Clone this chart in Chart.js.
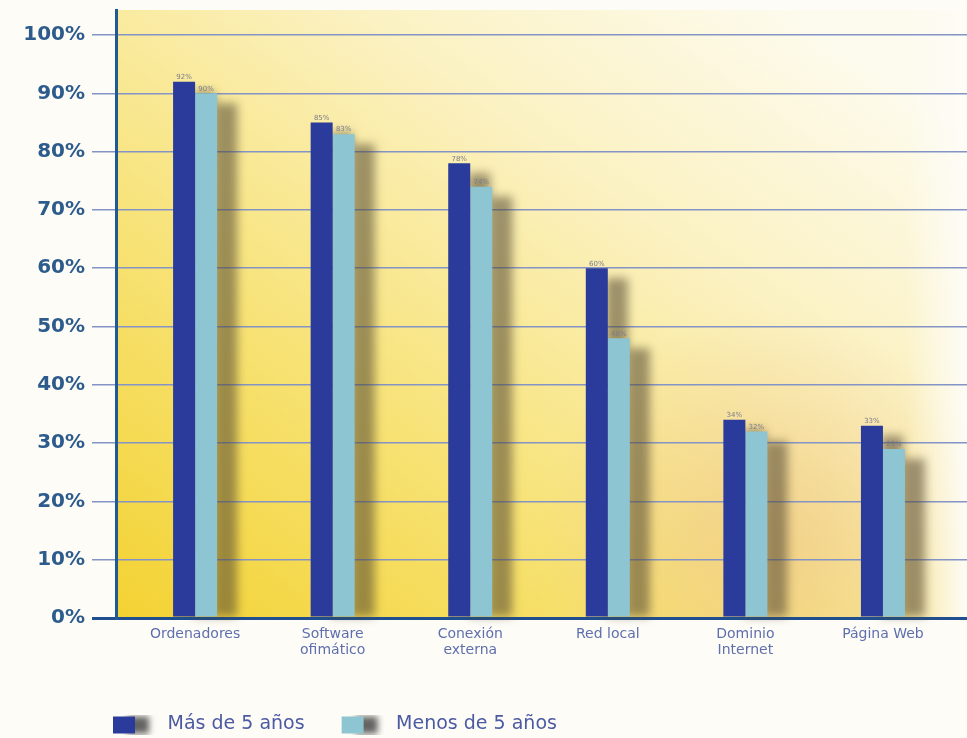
<!DOCTYPE html>
<html>
<head>
<meta charset="utf-8">
<script src="https://cdn.jsdelivr.net/npm/chart.js@4.4.1/dist/chart.umd.min.js"></script>
<style>
  html, body { margin: 0; padding: 0; background: #fdfcf6; }
  canvas { display: block; }
</style>
</head>
<body>
<canvas id="barChart" width="967" height="738"></canvas>
<script>
const categories = ['Ordenadores', ['Software', 'ofimático'], ['Conexión', 'externa'], 'Red local', ['Dominio', 'Internet'], 'Página Web'];
const masDe5 = [92, 85, 78, 60, 34, 33];
const menosDe5 = [90, 83, 74, 48, 32, 29];
const seriesNames = ['Más de 5 años', 'Menos de 5 años'];
const seriesColors = ['#2a3b9b', '#8ec5d3'];

// warm yellow backdrop behind the plot
const backdrop = {
  id: 'backdrop',
  beforeDraw(chart) {
    const { ctx, chartArea: a } = chart;
    ctx.save();
    ctx.fillStyle = '#fdfcf6';
    ctx.fillRect(0, 0, chart.width, chart.height);
    const g = ctx.createLinearGradient(a.left, a.bottom, a.left + 520, a.top - 120);
    g.addColorStop(0, '#f3d232');
    g.addColorStop(0.35, '#f7e274');
    g.addColorStop(0.7, '#fbf1c0');
    g.addColorStop(1, '#fdfbee');
    ctx.fillStyle = g;
    ctx.fillRect(a.left, a.top, a.right - a.left, a.bottom - a.top);
    const r = ctx.createRadialGradient(770, 540, 10, 770, 540, 230);
    r.addColorStop(0, 'rgba(232,176,120,0.4)');
    r.addColorStop(1, 'rgba(232,176,120,0)');
    ctx.fillStyle = r;
    ctx.fillRect(a.left, a.top, a.right - a.left, a.bottom - a.top);
    const w = ctx.createLinearGradient(a.right - 60, 0, a.right, 0);
    w.addColorStop(0, 'rgba(253,252,246,0)');
    w.addColorStop(1, 'rgba(253,252,246,1)');
    ctx.fillStyle = w;
    ctx.fillRect(a.right - 60, a.top, 60, a.bottom - a.top);
    ctx.restore();
  }
};

// blurred shadows drawn under all bars
const barShadow = {
  id: 'barShadow',
  beforeDatasetsDraw(chart) {
    const ctx = chart.ctx;
    ctx.save();
    ctx.filter = 'blur(5px)';
    ctx.fillStyle = 'rgba(80,70,50,0.55)';
    chart.data.datasets.forEach((ds, i) => {
      chart.getDatasetMeta(i).data.forEach((bar) => {
        const w = bar.width;
        ctx.fillRect(bar.x - w / 2 + 20, bar.y + 10, w, bar.base - bar.y - 10);
      });
    });
    ctx.restore();
  }
};

// tiny percentage labels above bars
const valueLabels = {
  id: 'valueLabels',
  afterDatasetsDraw(chart) {
    const ctx = chart.ctx;
    ctx.save();
    ctx.font = '7px "DejaVu Sans"';
    ctx.fillStyle = '#7c7c8c';
    ctx.textAlign = 'center';
    ctx.textBaseline = 'bottom';
    chart.data.datasets.forEach((ds, i) => {
      chart.getDatasetMeta(i).data.forEach((bar, j) => {
        ctx.fillText(ds.data[j].y + '%', bar.x, bar.y - 1);
      });
    });
    ctx.restore();
  }
};

// move legend under the y axis like the original
const legendShift = {
  id: 'legendShift',
  afterLayout(chart) {
    chart.legend.left = 76;
    chart.legend.top += 6;
  }
};

function legendIcon(color) {
  const c = document.createElement('canvas');
  c.width = 72;
  c.height = 20;
  const x = c.getContext('2d');
  x.shadowColor = 'rgba(60,60,60,0.8)';
  x.shadowBlur = 6;
  x.shadowOffsetX = 14;
  x.fillStyle = color;
  x.fillRect(27, 2, 22, 17);
  return c;
}
const icons = seriesColors.map(legendIcon);

new Chart(document.getElementById('barChart'), {
  type: 'bar',
  data: {
    datasets: [
      {
        label: seriesNames[0],
        data: masDe5.map((v, i) => ({ x: i, y: v })),
        backgroundColor: seriesColors[0]
      },
      {
        label: seriesNames[1],
        data: menosDe5.map((v, i) => ({ x: i, y: v })),
        backgroundColor: seriesColors[1]
      }
    ]
  },
  options: {
    responsive: false,
    animation: false,
    devicePixelRatio: 1,
    categoryPercentage: 0.32,
    barPercentage: 1,
    layout: { padding: { top: 10, left: 0, right: 0, bottom: 0 } },
    plugins: {
      tooltip: { enabled: false },
      legend: {
        position: 'bottom',
        align: 'start',
        labels: {
          usePointStyle: true,
          pointStyleWidth: 72,
          padding: 10,
          color: '#4b5aa3',
          font: { family: 'DejaVu Sans', size: 19 },
          generateLabels: (chart) => seriesNames.map((name, i) => ({
            text: name,
            fontColor: '#4b5aa3',
            pointStyle: icons[i],
            fillStyle: seriesColors[i],
            strokeStyle: seriesColors[i],
            lineWidth: 0,
            datasetIndex: i
          }))
        }
      }
    },
    scales: {
      x: {
        type: 'linear',
        offset: false,
        bounds: 'data',
        min: -0.575,
        max: 5.611,
        afterBuildTicks: (s) => { s.ticks = categories.map((_, i) => ({ value: i })); },
        afterFit: (s) => { s.height = 81; },
        grid: { display: false, drawTicks: false, offset: false },
        border: { display: true, color: '#1f4f8e', width: 3 },
        ticks: {
          padding: 9,
          includeBounds: false,
          autoSkip: false,
          maxRotation: 0,
          color: '#5f6fae',
          font: { family: 'DejaVu Sans', size: 14, lineHeight: 1.1 },
          callback: (v) => categories[v]
        }
      },
      y: {
        min: 0,
        max: 104.3,
        afterFit: (s) => { s.width = 116; s.paddingTop = 0; s.paddingBottom = 0; },
        grid: {
          color: (c) => c.tick && c.tick.value === 0 ? '#1f4f8e' : '#8494c6',
          lineWidth: (c) => c.tick && c.tick.value === 0 ? 3 : 1.5,
          tickColor: (c) => c.tick && c.tick.value === 0 ? '#1f4f8e' : '#8494c6',
          tickLength: 24
        },
        border: { display: true, color: '#1f5a93', width: 3 },
        ticks: {
          stepSize: 10,
          includeBounds: false,
          padding: 7,
          color: '#2c5b8c',
          font: { family: 'DejaVu Sans', size: 20, weight: 'bold' },
          callback: (v) => v + '%'
        }
      }
    }
  },
  plugins: [backdrop, barShadow, valueLabels, legendShift]
});
</script>
</body>
</html>
